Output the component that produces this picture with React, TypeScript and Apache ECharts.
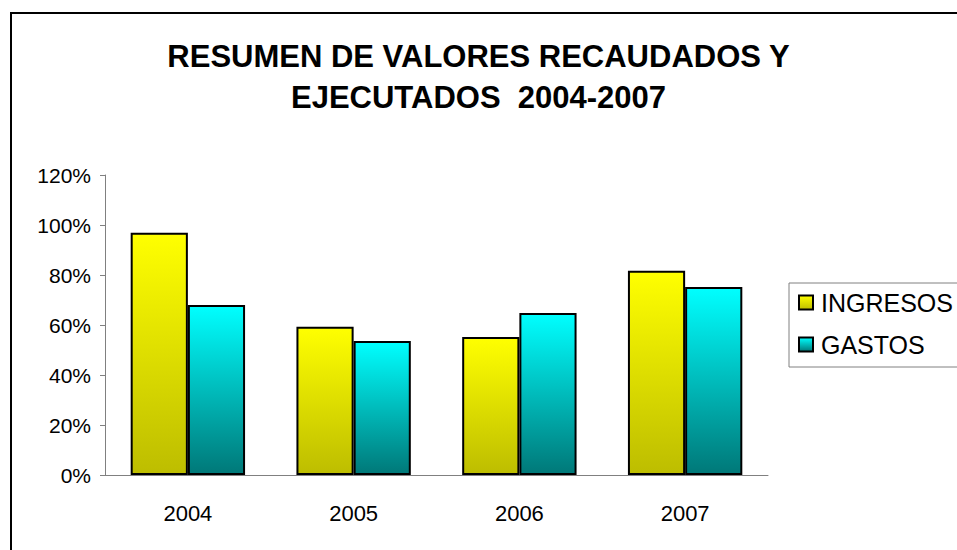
import React, { useEffect, useRef } from "react";
import * as echarts from "echarts";

const categories = ["2004", "2005", "2006", "2007"];
const ingresos = [96.9, 59.3, 55.2, 81.7];
const gastos = [68.0, 53.6, 64.8, 75.2];
const seriesNames = ["INGRESOS", "GASTOS"];
const titleText = "RESUMEN DE VALORES RECAUDADOS Y\nEJECUTADOS  2004-2007";

const FONT = "'Liberation Sans', Arial, sans-serif";

export default function App() {
  const ref = useRef<HTMLDivElement>(null);
  useEffect(() => {
    if (!ref.current) return;
    const chart = echarts.init(ref.current, null, { renderer: "svg" });
    const yellowGrad = new echarts.graphic.LinearGradient(0, 0, 0, 1, [
      { offset: 0, color: "#FFFF00" },
      { offset: 1, color: "#BDBD00" },
    ]);
    const cyanGrad = new echarts.graphic.LinearGradient(0, 0, 0, 1, [
      { offset: 0, color: "#00FFFF" },
      { offset: 1, color: "#007878" },
    ]);
    chart.setOption({
      animation: false,
      backgroundColor: "#ffffff",
      textStyle: { fontFamily: FONT, color: "#000" },
      title: {
        text: titleText,
        left: "center",
        top: 31,
        textStyle: {
          fontFamily: FONT,
          fontSize: 31,
          fontWeight: "bold",
          color: "#000",
          lineHeight: 41,
        },
      },
      graphic: [
        {
          type: "rect",
          shape: { x: 11, y: 13, width: 1000, height: 600 },
          style: { fill: "none", stroke: "#000", lineWidth: 2 },
          silent: true,
        },
        {
          type: "rect",
          shape: { x: 789, y: 283, width: 200, height: 84 },
          style: { fill: "none", stroke: "#808080", lineWidth: 1 },
          silent: true,
        },
      ],
      legend: {
        orient: "vertical",
        left: 798,
        top: 290,
        itemWidth: 14,
        itemHeight: 14,
        itemGap: 17,
        icon: "rect",
        padding: 0,
        textStyle: { fontFamily: FONT, fontSize: 25, color: "#000", padding: [0, 0, 0, 3] },
        data: seriesNames,
      },
      grid: { left: 105, right: 189, top: 175, bottom: 75, containLabel: false },
      xAxis: {
        type: "category",
        data: categories,
        axisLine: { lineStyle: { color: "#808080", width: 1 } },
        axisTick: { length: 8, lineStyle: { color: "#808080" } },
        axisLabel: { fontFamily: FONT, fontSize: 22, color: "#000", margin: 27 },
      },
      yAxis: {
        type: "value",
        min: 0,
        max: 120,
        interval: 20,
        axisLine: { show: true, lineStyle: { color: "#808080", width: 1 } },
        axisTick: { show: true, length: 5, lineStyle: { color: "#808080" } },
        splitLine: { show: false },
        axisLabel: {
          fontFamily: FONT,
          fontSize: 21,
          color: "#000",
          margin: 14,
          formatter: "{value}%",
        },
      },
      series: [
        {
          name: seriesNames[0],
          type: "bar",
          data: ingresos,
          barGap: "0%",
          barCategoryGap: "31%",
          itemStyle: { color: yellowGrad, borderColor: "#000", borderWidth: 2 },
        },
        {
          name: seriesNames[1],
          type: "bar",
          data: gastos,
          barGap: "0%",
          barCategoryGap: "31%",
          itemStyle: { color: cyanGrad, borderColor: "#000", borderWidth: 2 },
        },
      ],
    });
    return () => chart.dispose();
  }, []);
  return (
    <div
      ref={ref}
      style={{ position: "fixed", left: 0, top: 0, width: 957, height: 550 }}
    />
  );
}
